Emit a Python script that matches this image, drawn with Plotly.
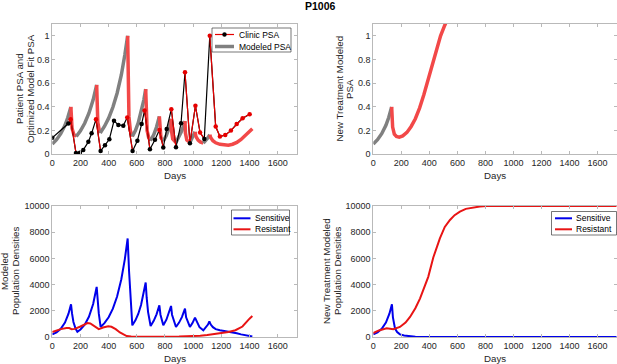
import plotly.graph_objects as go

# ---------------- data ----------------
# Top-left: modeled PSA (phase "off" = gray, "on" = red treatment)
model_days = [0, 30, 60, 90, 110, 132,
              132, 135, 140, 152, 170,
              170, 200, 230, 260, 290, 315,
              315, 318, 323, 332, 340,
              340, 370, 400, 430, 460, 490, 515, 535,
              535, 538, 544, 554, 568,
              568, 590, 610, 630, 650, 663,
              663, 666, 673, 684, 696,
              696, 720, 740, 760,
              760, 763, 771, 788,
              788, 810, 828, 843,
              843, 846, 855, 878,
              878, 900, 920, 942,
              942, 945, 955, 977,
              977, 995, 1013,
              1013, 1020, 1035, 1050, 1072,
              1072, 1090, 1105, 1118,
              1118, 1125, 1140, 1160, 1190, 1220, 1250, 1280, 1310, 1340, 1370, 1400, 1420]
model_psa = [0.087, 0.123, 0.174, 0.245, 0.31, 0.40,
             0.40, 0.30, 0.22, 0.17, 0.15,
             0.15, 0.198, 0.262, 0.347, 0.46, 0.586,
             0.586, 0.40, 0.27, 0.21, 0.18,
             0.18, 0.235, 0.305, 0.397, 0.516, 0.67, 0.84, 1.0,
             1.0, 0.6, 0.32, 0.2, 0.15,
             0.15, 0.20, 0.265, 0.35, 0.46, 0.55,
             0.55, 0.35, 0.2, 0.14, 0.115,
             0.115, 0.165, 0.23, 0.32,
             0.32, 0.21, 0.14, 0.11,
             0.11, 0.16, 0.22, 0.30,
             0.30, 0.2, 0.13, 0.10,
             0.10, 0.145, 0.2, 0.28,
             0.28, 0.18, 0.12, 0.10,
             0.10, 0.14, 0.19,
             0.19, 0.15, 0.12, 0.105, 0.095,
             0.095, 0.115, 0.14, 0.165,
             0.165, 0.14, 0.115, 0.097, 0.084, 0.077, 0.077, 0.085, 0.10, 0.125, 0.16, 0.195, 0.215]
model_phase = (["off"] * 6 + ["on"] * 5 + ["off"] * 6 + ["on"] * 5 + ["off"] * 8 + ["on"] * 5 +
               ["off"] * 6 + ["on"] * 5 + ["off"] * 4 + ["on"] * 4 + ["off"] * 4 + ["on"] * 4 +
               ["off"] * 4 + ["on"] * 4 + ["off"] * 3 + ["on"] * 5 + ["off"] * 4 + ["on"] * 13)

# Top-left: clinic PSA measurements
clinic_days = [0, 114, 130, 168, 196, 220, 256, 279, 310, 343, 374, 405, 438, 469, 504, 532,
               570, 604, 634, 655, 693, 729, 760, 788, 812, 845, 878, 914, 942, 977, 1016,
               1049, 1079, 1118, 1160, 1190, 1228, 1268, 1309, 1351, 1401]
clinic_psa = [0.14, 0.26, 0.296, 0.012, 0.014, 0.037, 0.105, 0.177, 0.295, 0.028, 0.077, 0.127,
              0.283, 0.248, 0.242, 0.31, 0.028, 0.115, 0.255, 0.37, 0.043, 0.122, 0.205, 0.057,
              0.214, 0.38, 0.06, 0.262, 0.693, 0.093, 0.41, 0.183, 0.13, 1.0, 0.234, 0.15,
              0.163, 0.2, 0.256, 0.304, 0.338]
clinic_dot_on = [0, 0, 1, 0, 0, 0, 0, 0, 1, 0, 0, 0, 0, 0, 0, 1, 0, 0, 0, 1, 0, 0, 1, 0, 0, 1,
                 0, 0, 1, 0, 1, 1, 0, 1, 1, 1, 1, 1, 1, 1, 1]
clinic_seg_on = [0, 1, 1, 0, 0, 0, 0, 0, 1, 0, 0, 0, 0, 0, 0, 1, 0, 0, 0, 1, 0, 0, 1, 0, 0, 1,
                 0, 0, 1, 1, 1, 1, 0, 1, 1, 1, 1, 1, 1, 1]

# Top-right: new-treatment modeled PSA
new_days = [0, 30, 60, 90, 110, 131,
            131, 134, 138, 150, 165, 185, 210, 240, 270, 300, 330, 360, 390, 420, 450, 480, 510, 540]
new_psa = [0.087, 0.123, 0.174, 0.245, 0.31, 0.40,
           0.40, 0.30, 0.23, 0.17, 0.15, 0.145, 0.155, 0.185, 0.235, 0.30, 0.39, 0.50, 0.63,
           0.765, 0.88, 1.0, 1.09, 1.17]
new_phase = ["off"] * 6 + ["on"] * 18

# Bottom-left: modeled population densities
sens_days = [0, 30, 60, 90, 115, 133, 140, 150, 165, 178, 200, 230, 260, 290, 315, 322, 330, 343,
             370, 400, 430, 460, 490, 515, 535, 545, 555, 568, 590, 610, 630, 650, 663, 670, 680,
             698, 720, 740, 760, 768, 788, 810, 828, 843, 850, 878, 900, 920, 942, 950, 977, 995,
             1013, 1025, 1045, 1072, 1090, 1105, 1115, 1125, 1140, 1160, 1190, 1220, 1250, 1280,
             1310, 1340, 1370, 1400, 1420]
sens_vals = [200, 355, 630, 1100, 1780, 2500, 1800, 1150, 650, 400, 575, 940, 1540, 2520, 3830,
             2800, 1800, 765, 1060, 1510, 2160, 3090, 4410, 5950, 7525, 5000, 2800, 890, 1270,
             1760, 2440, 3370, 4160, 3000, 1900, 840, 1230, 1730, 2420, 1700, 890, 1320, 1820,
             2370, 1700, 765, 1100, 1520, 2170, 1500, 765, 1060, 1480, 1150, 750, 510, 720, 950,
             1200, 950, 750, 600, 520, 470, 420, 360, 280, 200, 120, 60, 40]
res_days = [0, 30, 60, 100, 120, 137, 160, 200, 230, 250, 270, 300, 330, 360, 397, 420, 450, 480,
            510, 528, 560, 600, 700, 800, 900, 1000, 1050, 1100, 1150, 1200, 1250, 1300, 1350,
            1400, 1420]
res_vals = [380, 500, 600, 690, 680, 600, 620, 800, 980, 1060, 1040, 850, 600, 720, 815, 780,
            600, 350, 150, 75, 40, 30, 20, 20, 30, 60, 100, 150, 220, 300, 380, 520, 800, 1400,
            1600]

# Bottom-right: new-treatment modeled population densities
sens2_days = [0, 30, 60, 90, 115, 133, 140, 155, 170, 190, 220, 262, 300, 400, 1740]
sens2_vals = [200, 355, 630, 1100, 1780, 2500, 1500, 640, 380, 200, 110, 50, 20, 0, 0]
res2_days = [0, 40, 95, 143, 190, 230, 262, 300, 333, 360, 392, 428, 475, 510, 547, 580, 618,
             660, 713, 760, 808, 1000, 1740]
res2_vals = [300, 500, 660, 590, 765, 1100, 1530, 2200, 2930, 3700, 4590, 6070, 7525, 8400, 8930,
             9300, 9570, 9780, 9900, 9960, 10000, 10000, 10000]

x_ticks = [0, 200, 400, 600, 800, 1000, 1200, 1400, 1600]
psa_ticks = [0, 0.2, 0.4, 0.6, 0.8, 1]
psa_labels = ["0", "0.2", "0.4", "0.6", "0.8", "1"]
pop_ticks = [0, 2000, 4000, 6000, 8000, 10000]
pop_labels = ["0", "2000", "4000", "6000", "8000", "10000"]

# ---------------- styles ----------------
FONT = "Liberation Sans, Arial, Helvetica, sans-serif"
GRAY = "rgb(128,128,128)"
MRED = "rgb(242,72,72)"
CRED = "rgb(230,0,0)"
BLUE = "rgb(0,0,235)"
RRED = "rgb(232,20,20)"
TXT = "rgb(38,38,38)"
W, H = 617, 364


def px(x):
    return x / W


def py(y):
    return 1 - y / H


fig = go.Figure()


def phase_runs(days, vals, phase):
    runs = []
    start = 0
    for i in range(1, len(phase) + 1):
        if i == len(phase) or phase[i] != phase[start]:
            runs.append((phase[start], days[start:i], vals[start:i]))
            start = i
    return runs


for ph, d, v in phase_runs(model_days, model_psa, model_phase):
    fig.add_trace(go.Scatter(x=d, y=v, mode="lines", showlegend=False, hoverinfo="skip",
                             line=dict(color=MRED if ph == "on" else GRAY, width=3.5),
                             xaxis="x", yaxis="y"))

fig.add_trace(go.Scatter(x=clinic_days, y=clinic_psa, mode="lines", showlegend=False,
                         hoverinfo="skip", line=dict(color="black", width=1.2),
                         xaxis="x", yaxis="y"))
i = 0
n = len(clinic_seg_on)
while i < n:
    if clinic_seg_on[i]:
        j = i
        while j < n and clinic_seg_on[j]:
            j += 1
        fig.add_trace(go.Scatter(x=clinic_days[i:j + 1], y=clinic_psa[i:j + 1], mode="lines",
                                 showlegend=False, hoverinfo="skip",
                                 line=dict(color=CRED, width=1.2), xaxis="x", yaxis="y"))
        i = j
    else:
        i += 1
fig.add_trace(go.Scatter(x=clinic_days, y=clinic_psa, mode="markers", showlegend=False,
                         hoverinfo="skip",
                         marker=dict(size=4.5, color=[CRED if f else "black" for f in clinic_dot_on]),
                         xaxis="x", yaxis="y"))

for ph, d, v in phase_runs(new_days, new_psa, new_phase):
    fig.add_trace(go.Scatter(x=d, y=v, mode="lines", showlegend=False, hoverinfo="skip",
                             line=dict(color=MRED if ph == "on" else GRAY, width=3.5),
                             xaxis="x2", yaxis="y2"))

fig.add_trace(go.Scatter(x=sens_days, y=sens_vals, mode="lines", showlegend=False,
                         hoverinfo="skip", line=dict(color=BLUE, width=2), xaxis="x3", yaxis="y3"))
fig.add_trace(go.Scatter(x=res_days, y=res_vals, mode="lines", showlegend=False,
                         hoverinfo="skip", line=dict(color=RRED, width=2), xaxis="x3", yaxis="y3"))
fig.add_trace(go.Scatter(x=sens2_days, y=sens2_vals, mode="lines", showlegend=False,
                         hoverinfo="skip", line=dict(color=BLUE, width=2), xaxis="x4", yaxis="y4"))
fig.add_trace(go.Scatter(x=res2_days, y=res2_vals, mode="lines", showlegend=False,
                         hoverinfo="skip", line=dict(color=RRED, width=2), xaxis="x4", yaxis="y4"))

AX = "rgb(185,185,185)"


def xax(domain, anchor):
    return dict(domain=domain, anchor=anchor, range=[0, 1735], tickvals=x_ticks,
                showline=True, linecolor=AX, linewidth=1, mirror="ticks",
                ticks="inside", ticklen=3, tickcolor=AX, showgrid=False,
                zeroline=False, tickfont=dict(size=9, color=TXT, family=FONT),
                automargin=False, fixedrange=True)


def yax(domain, anchor, rng, tv, tt):
    return dict(domain=domain, anchor=anchor, range=rng, tickvals=tv, ticktext=tt,
                showline=True, linecolor=AX, linewidth=1, mirror="ticks",
                ticks="inside", ticklen=3, tickcolor=AX, showgrid=False,
                zeroline=False, tickfont=dict(size=9, color=TXT, family=FONT),
                automargin=False, fixedrange=True)


xl = [px(52.3), px(296.7)]
xr = [px(373.3), px(616.5)]
yt = [py(154.3), py(24)]
yb = [py(337), py(206)]

shapes = []
annotations = []


def text(x, y, s, size=9.7, angle=0, anchor="center", color=TXT):
    annotations.append(dict(x=px(x), y=py(y), xref="paper", yref="paper", text=s,
                            showarrow=False, textangle=angle, xanchor=anchor, yanchor="middle",
                            font=dict(size=size, color=color, family=FONT)))


# title
text(320, 6, "<b>P1006</b>", size=10.5, color="black")
# x-axis titles
for cx, cy in [(174.5, 175), (495, 175), (174.5, 358), (495, 358)]:
    text(cx, cy, "Days")
# y-axis titles (two lines each)
text(19, 89, "Patient PSA and", angle=-90)
text(30, 89, "Optimized Model Fit PSA", angle=-90)
text(338.5, 89, "New Treatment Modeled", angle=-90)
text(349, 89, "PSA", angle=-90)
text(4.5, 271.5, "Modeled", angle=-90)
text(15.5, 271.5, "Population Densities", angle=-90)
text(326.5, 271.5, "New Treatment Modeled", angle=-90)
text(337.5, 271.5, "Population Densities", angle=-90)


# custom legends
def legend_box(x0, y0, x1, y1):
    shapes.append(dict(type="rect", xref="paper", yref="paper", x0=px(x0), x1=px(x1),
                       y0=py(y1), y1=py(y0), fillcolor="white",
                       line=dict(color="rgb(60,60,60)", width=0.7), layer="above"))


def legend_line(x0, x1, y, color, width):
    shapes.append(dict(type="line", xref="paper", yref="paper", x0=px(x0), x1=px(x1),
                       y0=py(y), y1=py(y), line=dict(color=color, width=width), layer="above"))


def legend_dot(x, y, r, color):
    shapes.append(dict(type="circle", xref="paper", yref="paper", x0=px(x - r), x1=px(x + r),
                       y0=py(y + r), y1=py(y - r), fillcolor=color, line=dict(width=0),
                       layer="above"))


LF = 8.5
legend_box(212, 28, 291, 52)
legend_line(215, 234, 34.5, CRED, 1.2)
legend_dot(224.5, 34.5, 2.2, "black")
text(237, 34.5, "Clinic PSA", size=LF, anchor="left", color="black")
legend_line(215, 234, 46.5, GRAY, 3.5)
text(237, 46.5, "Modeled PSA", size=LF, anchor="left", color="black")

legend_box(231.5, 210, 289.5, 235)
legend_line(233.5, 250.5, 218.3, BLUE, 2)
text(252.5, 218.3, "Sensitive", size=LF, anchor="left", color="black")
legend_line(233.5, 250.5, 229.3, RRED, 2)
text(252.5, 229.3, "Resistant", size=LF, anchor="left", color="black")

legend_box(551.5, 211.5, 616.5, 235)
legend_line(555, 572, 218.3, BLUE, 2)
text(574, 218.3, "Sensitive", size=LF, anchor="left", color="black")
legend_line(555, 572, 229.3, RRED, 2)
text(574, 229.3, "Resistant", size=LF, anchor="left", color="black")

fig.update_layout(
    width=W, height=H, margin=dict(l=0, r=0, t=0, b=0),
    paper_bgcolor="white", plot_bgcolor="white", showlegend=False,
    font=dict(family=FONT, color=TXT), hovermode=False,
    xaxis=xax(xl, "y"), yaxis=yax(yt, "x", [0, 1.1], psa_ticks, psa_labels),
    xaxis2=xax(xr, "y2"), yaxis2=yax(yt, "x2", [0, 1.1], psa_ticks, psa_labels),
    xaxis3=xax(xl, "y3"), yaxis3=yax(yb, "x3", [0, 10000], pop_ticks, pop_labels),
    xaxis4=xax(xr, "y4"), yaxis4=yax(yb, "x4", [0, 10000], pop_ticks, pop_labels),
    shapes=shapes, annotations=annotations,
)

fig.write_html("out.html", config={"displayModeBar": False},
               post_script="document.body.style.margin='0px';")
